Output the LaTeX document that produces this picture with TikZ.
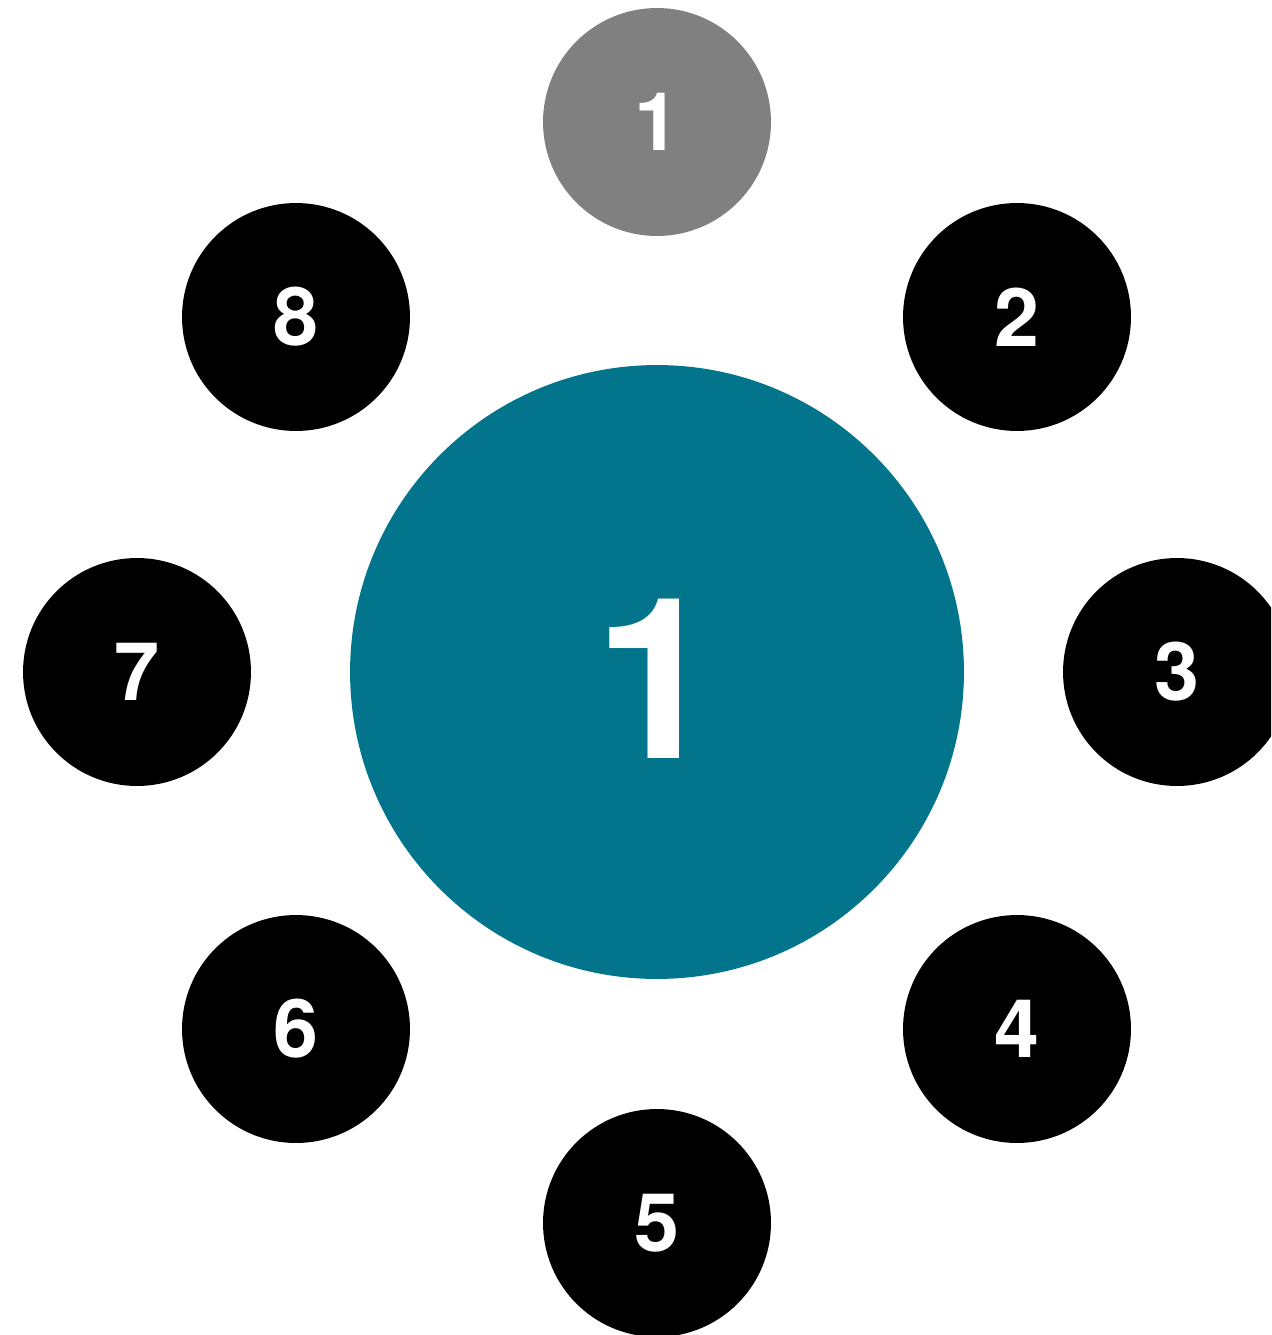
\documentclass[tikz,border=0pt]{standalone}
\usepackage{fontspec}
\setmainfont{TeX Gyre Heros}
\definecolor{hubteal}{RGB}{2,117,140}
\definecolor{dimgray}{RGB}{128,128,128}
\begin{document}
\begin{tikzpicture}[
  x=0.02cm, y=-0.02cm,
  every node/.style={text=white},
  seat/.style={circle, fill=black, minimum size=4.56cm, inner sep=0pt, font=\bfseries\fontsize{46}{46}\selectfont},
  past/.style={seat, fill=dimgray},
  hub/.style={circle, fill=hubteal, minimum size=12.28cm, inner sep=0pt, text height=3.46cm, text depth=0pt, font=\bfseries\fontsize{128}{128}\selectfont}]

\useasboundingbox (0,0) rectangle (1271,1335);
\clip (0,0) rectangle (1271,1335);

\node[hub]  (c)  at (657,672)  {1};

\node[past] (s1) at (657,122)  {1};
\node[seat] (s2) at (1017,317) {2};
\node[seat] (s3) at (1177,672) {3};
\node[seat] (s4) at (1017,1029) {4};
\node[seat] (s5) at (657,1223) {5};
\node[seat] (s6) at (296,1029) {6};
\node[seat] (s7) at (137,672)  {7};
\node[seat] (s8) at (296,317)  {8};
\end{tikzpicture}
\end{document}
